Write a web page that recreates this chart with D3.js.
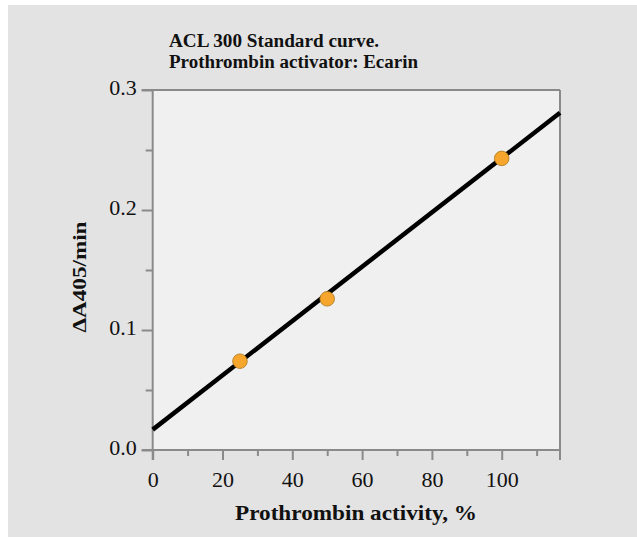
<!DOCTYPE html>
<html>
<head>
<meta charset="utf-8">
<script src="https://cdn.jsdelivr.net/npm/d3@7"></script>
<style>
  body { margin: 0; background: #fff; }
  text { font-family: "Liberation Serif", "Times New Roman", serif; fill: #111; }
</style>
</head>
<body>
<script>
// data
const activity = [25, 50, 100];          // Prothrombin activity, %
const deltaA = [0.074, 0.126, 0.243];    // ΔA405/min
const fitX = [0, 116.7];                 // ends of the standard curve
const fitY = [0.017, 0.281];
const xMajor = [0, 20, 40, 60, 80, 100];
const xMinor = [10, 30, 50, 70, 90, 110];
const yMajor = [0, 0.1, 0.2, 0.3];
const yMinor = [0.05, 0.15, 0.25];
const titleLines = ['ACL 300 Standard curve.', 'Prothrombin activator: Ecarin'];

const W = 637, H = 537;
const svg = d3.select('body').append('svg').attr('width', W).attr('height', H);

svg.append('rect').attr('x', 8).attr('y', 5).attr('width', W - 8).attr('height', H - 5).attr('fill', '#e3e3e3');

let x = d3.scaleLinear().domain([0, 116.7]).range([152.7, 560]);
let y = d3.scaleLinear().domain([0, 0.3]).range([450, 90]);

// plot area
svg.append('rect')
  .attr('x', x(0)).attr('y', y(0.3))
  .attr('width', x(116.7) - x(0)).attr('height', y(0) - y(0.3))
  .attr('fill', '#f0f0f0');

const axisColor = '#8a8a8a';
function styleAxis(g) {
  g.selectAll('.domain').remove();
  g.selectAll('line').attr('stroke', axisColor).attr('stroke-width', 2);
}

// minor ticks
svg.append('g').attr('transform', `translate(0,${y(0)})`)
  .call(d3.axisBottom(x).tickValues(xMinor).tickSize(6).tickFormat(''))
  .call(styleAxis);
svg.append('g').attr('transform', `translate(${x(0)},0)`)
  .call(d3.axisLeft(y).tickValues(yMinor).tickSize(7).tickFormat(''))
  .call(styleAxis);

// major ticks
let xAxis = svg.append('g').attr('transform', `translate(0,${y(0)})`)
  .call(d3.axisBottom(x).tickValues(xMajor).tickSize(10).tickPadding(11).tickFormat(d3.format('d')))
  .call(styleAxis);
xAxis.selectAll('text').attr('font-size', 22).attr('fill', '#111')
  .style('font-family', '"Liberation Serif", serif');

let yAxis = svg.append('g').attr('transform', `translate(${x(0)},0)`)
  .call(d3.axisLeft(y).tickValues(yMajor).tickSize(11).tickPadding(5).tickFormat(d3.format('.1f')))
  .call(styleAxis);
yAxis.selectAll('text').attr('font-size', 22).attr('fill', '#111').attr('dy', '0.22em')
  .style('font-family', '"Liberation Serif", serif');

// frame
const frame = svg.append('g').attr('stroke', axisColor).attr('stroke-width', 2).attr('fill', 'none');
frame.append('line').attr('x1', x(0) - 11).attr('x2', x(116.7)).attr('y1', y(0.3)).attr('y2', y(0.3));
frame.append('line').attr('x1', x(116.7)).attr('x2', x(116.7)).attr('y1', y(0.3)).attr('y2', y(0) + 10);
frame.append('line').attr('x1', x(0) - 11).attr('x2', x(116.7)).attr('y1', y(0)).attr('y2', y(0));
frame.append('line').attr('x1', x(0)).attr('x2', x(0)).attr('y1', y(0.3)).attr('y2', y(0) + 10);

// standard curve
svg.append('line')
  .attr('x1', x(fitX[0])).attr('y1', y(fitY[0]))
  .attr('x2', x(fitX[1])).attr('y2', y(fitY[1]))
  .attr('stroke', '#000').attr('stroke-width', 4.5);

// points
svg.append('g').selectAll('circle')
  .data(activity.map((a, i) => [a, deltaA[i]]))
  .join('circle')
  .attr('cx', (d) => x(d[0]))
  .attr('cy', (d) => y(d[1]))
  .attr('r', 7.3)
  .attr('fill', '#f6a62c')
  .attr('stroke', '#a8771e')
  .attr('stroke-width', 0.8);

// titles
const titleWidths = [210, 249];
svg.append('g').selectAll('text')
  .data(titleLines)
  .join('text')
  .attr('x', 169)
  .attr('y', (d, i) => 47 + i * 21)
  .attr('font-size', 18)
  .attr('font-weight', 'bold')
  .attr('textLength', (d, i) => titleWidths[i])
  .attr('lengthAdjust', 'spacingAndGlyphs')
  .text((d) => d);

svg.append('text')
  .attr('x', 356).attr('y', 520)
  .attr('text-anchor', 'middle')
  .attr('font-size', 21).attr('font-weight', 'bold')
  .attr('textLength', 242).attr('lengthAdjust', 'spacingAndGlyphs')
  .text('Prothrombin activity, %');

svg.append('text')
  .attr('transform', 'translate(86,277) rotate(-90)')
  .attr('text-anchor', 'middle')
  .attr('font-size', 18).attr('font-weight', 'bold')
  .attr('textLength', 111).attr('lengthAdjust', 'spacingAndGlyphs')
  .text('ΔA405/min');
</script>
</body>
</html>
